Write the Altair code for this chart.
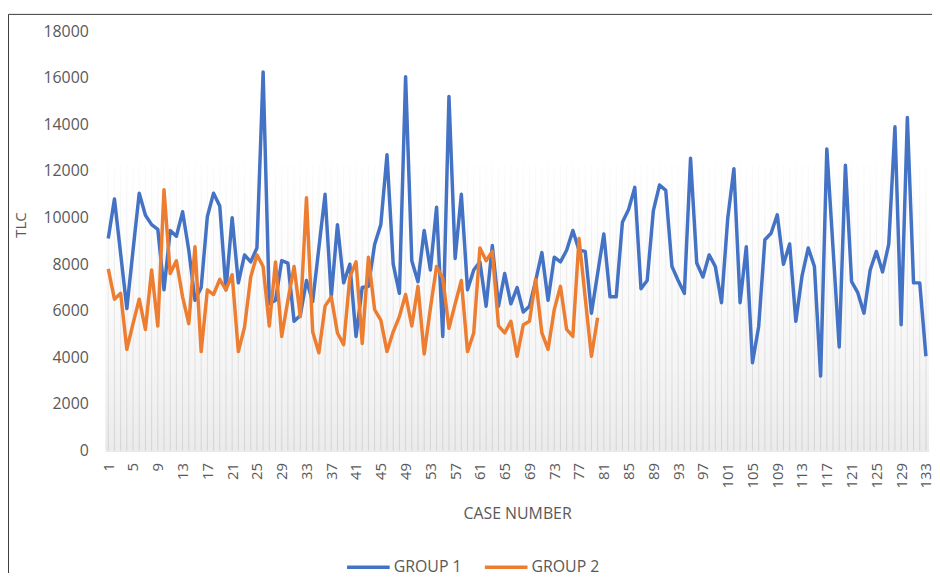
import altair as alt
import pandas as pd

# ---- data ----
GROUP_1 = [9100, 10800, 8450, 6100, 8600, 11050, 10100, 9700, 9500, 6900,
           9450, 9200, 10250, 8600, 6450, 7000, 10050, 11050, 10500, 6900,
           10000, 7200, 8400, 8100, 8700, 16250, 6300, 6450, 8150, 8050,
           5550, 5800, 7300, 6400, 8700, 11000, 6600, 9700, 7200, 8000,
           4900, 7000, 7050, 8850, 9700, 12700, 8000, 6750, 16050, 8150,
           7250, 9450, 7750, 10450, 4900, 15200, 8250, 11000, 6900, 7750,
           8100, 6200, 8800, 6200, 7600, 6300, 7000, 5950, 6200, 7300,
           8500, 6450, 8300, 8100, 8600, 9450, 8600, 8550, 5900, 7600,
           9300, 6600, 6600, 9800, 10350, 11300, 6950, 7300, 10300, 11400,
           11170, 7900, 7300, 6750, 12550, 8050, 7450, 8400, 7900, 6350,
           9950, 12100, 6350, 8750, 3770, 5330, 9050, 9330, 10120, 8000,
           8870, 5550, 7500, 8700, 7900, 3200, 12950, 8700, 4450, 12250,
           7250, 6780, 5900, 7750, 8550, 7670, 8860, 13900, 5400, 14300,
           7200, 7200, 4050]

GROUP_2 = [7800, 6500, 6750, 4350, 5450, 6500, 5200, 7750, 5350, 11200,
           7600, 8150, 6600, 5450, 8750, 4250, 6900, 6700, 7350, 6900,
           7550, 4250, 5300, 7450, 8400, 7900, 5350, 8100, 4900, 6450,
           7900, 5750, 10850, 5100, 4200, 6200, 6600, 5050, 4550, 7450,
           8100, 4600, 8300, 6050, 5600, 4250, 5100, 5750, 6700, 5350,
           7050, 4150, 6100, 7900, 7400, 5250, 6300, 7300, 4250, 5050,
           8700, 8150, 8550, 5350, 5050, 5550, 4050, 5400, 5550, 7350,
           5050, 4350, 6050, 7050, 5200, 4900, 9100, 6550, 4050, 5700]

SERIES = ["GROUP 1", "GROUP 2"]
CASES = list(range(1, len(GROUP_1) + 1))
X_TICKS = list(range(1, 134, 4))
Y_TICKS = list(range(0, 18001, 2000))

# ---- build tables ----
rows = []
for name, vals in zip(SERIES, [GROUP_1, GROUP_2]):
    for i, v in enumerate(vals):
        rows.append({"case": CASES[i], "TLC": v, "group": name})
df = pd.DataFrame(rows)
cases_df = pd.DataFrame({"case": CASES})

W, H = 831, 423
TXT = "#595959"
FONT = "Open Sans"

xscale = alt.Scale(domain=[0.5, 133.5], nice=False, zero=False)
yscale = alt.Scale(domain=[0, 18000], nice=False)

x_axis = alt.Axis(values=X_TICKS, labelAngle=-90, labelFontSize=15, labelColor=TXT,
                  labelFont=FONT, labelOverlap=False, labelFlush=False,
                  labelPadding=12, ticks=False, grid=False, domainColor="#d9d9d9",
                  title="CASE NUMBER", titleFont=FONT, titleFontSize=16,
                  titleFontWeight="normal", titleColor=TXT, titleBaseline="middle",
                  titleY=63)
y_axis = alt.Axis(values=Y_TICKS, format="d", labelFontSize=16, labelColor=TXT,
                  labelFont=FONT, labelPadding=17, ticks=False, grid=False, domain=False,
                  title="TLC", titleFont=FONT, titleFontSize=15,
                  titleFontWeight="normal", titleColor=TXT, titleAngle=-90,
                  titleX=-85, titleY=195, titleBaseline="middle", titleAlign="center")

TOP = 12300

bg = alt.Chart(pd.DataFrame({"a": [0]})).mark_rect(
    color=alt.Gradient(gradient="linear",
                       stops=[alt.GradientStop(color="#ffffff", offset=0),
                              alt.GradientStop(color="#ebebeb", offset=1)],
                       x1=0, x2=0, y1=0, y2=1)
).encode(x=alt.value(0), x2=alt.value(W),
         y=alt.Y(datum=TOP, scale=yscale), y2=alt.Y2(datum=0))

rules = alt.Chart(cases_df).mark_rule(color="#d2d2d2", strokeWidth=1).encode(
    x=alt.X("case:Q", scale=xscale, axis=x_axis),
    y=alt.Y(datum=0, scale=yscale, axis=y_axis),
    y2=alt.Y2(datum=TOP),
)

fade = alt.Chart(pd.DataFrame({"a": [0]})).mark_rect(
    color=alt.Gradient(gradient="linear",
                       stops=[alt.GradientStop(color="rgba(255,255,255,0.92)", offset=0),
                              alt.GradientStop(color="rgba(255,255,255,0)", offset=1)],
                       x1=0, x2=0, y1=0, y2=1)
).encode(x=alt.value(0), x2=alt.value(W),
         y=alt.Y(datum=TOP, scale=yscale), y2=alt.Y2(datum=0))

lines = alt.Chart(df).mark_line(strokeWidth=3.5, strokeJoin="round").encode(
    x=alt.X("case:Q", scale=xscale, axis=x_axis),
    y=alt.Y("TLC:Q", scale=yscale, axis=y_axis),
    color=alt.Color("group:N",
                    scale=alt.Scale(domain=SERIES, range=["#4472C4", "#ED7D31"]),
                    legend=alt.Legend(title=None, orient="none", legendX=242, legendY=517,
                                      direction="horizontal", symbolType="stroke",
                                      symbolSize=1849, symbolStrokeWidth=3.5,
                                      labelFontSize=16, labelColor=TXT, labelFont=FONT,
                                      labelOffset=2, columnPadding=16)),
)

frame = alt.Chart(pd.DataFrame({"a": [0]})).mark_rect(
    filled=False, stroke="#3a3a3a", strokeWidth=1
).encode(x=alt.value(-97.5), x2=alt.value(W + 50), y=alt.value(-17), y2=alt.value(H + 200))

chart = alt.layer(bg, rules, fade, lines, frame).properties(
    width=W, height=H,
    autosize=alt.AutoSizeParams(type="none"),
    padding={"left": 98, "top": 21, "right": 3, "bottom": 121},
).configure_view(stroke=None)

chart.save("out.html", embed_options={"renderer": "svg", "actions": False})
